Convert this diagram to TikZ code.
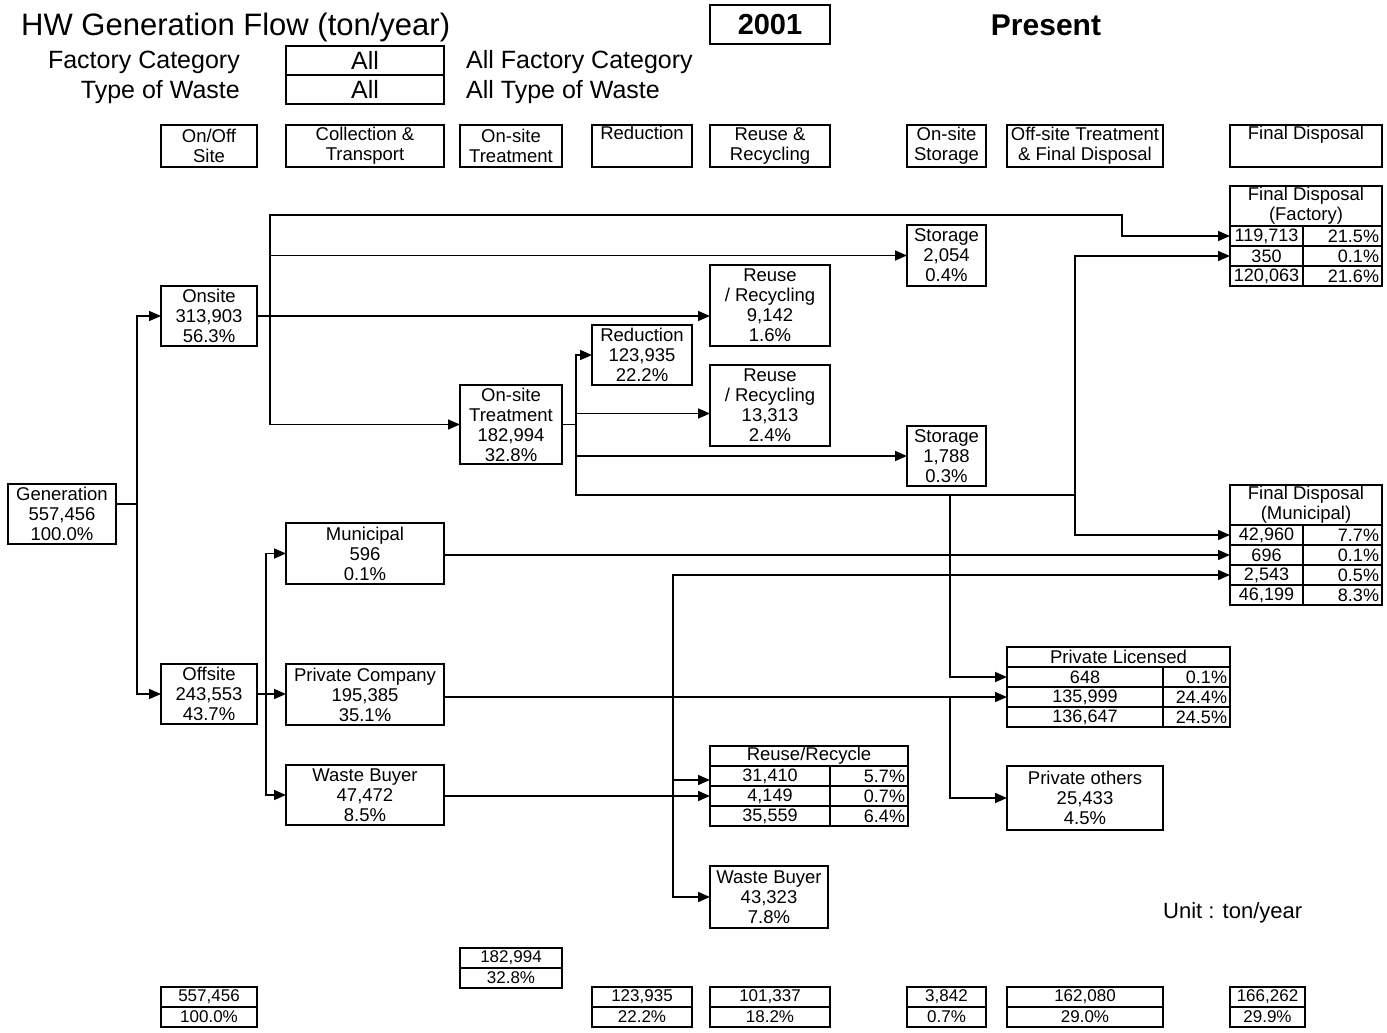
\documentclass[tikz,border=0pt]{standalone}
\usepackage{fontspec}
\setmainfont{Liberation Sans}
\usetikzlibrary{positioning,arrows.meta}
\newcommand\boxfont{\fontsize{18.5}{20}\selectfont}
\newcommand\cellfont{\fontsize{18}{20}\selectfont}
\newcommand\botfont{\fontsize{17}{20}\selectfont}
\newcommand\lblfont{\fontsize{25}{28}\selectfont}

\begin{document}
\begin{tikzpicture}[x=1pt,y=-1pt,>={Triangle[length=12pt,width=10pt]},every node/.style={font=\boxfont}]
\tikzstyle{bx}=[draw,line width=1.3pt,inner sep=0pt,outer sep=0pt,align=center]
\tikzstyle{cell}=[bx,font=\cellfont,minimum height=20pt]
\tikzstyle{bot}=[bx,font=\botfont,minimum height=20pt]
\tikzstyle{link}=[->,line width=1.6pt]
\tikzstyle{line}=[line width=1.6pt]
\tikzstyle{lbl}=[inner sep=0pt,font=\lblfont]
\tikzset{sz/.style 2 args={minimum width=#1pt,minimum height=#2pt},
  rcell/.style={cell,align=right,text width=#1pt,inner xsep=3pt}}
\fill[white] (0,0) rectangle (1387,1033);
\useasboundingbox (0,0) rectangle (1387,1033);

\node[anchor=base west,inner sep=0pt,font=\fontsize{31}{34}\selectfont] (title) at (21,36) {HW Generation Flow (ton/year)};
\node[bx,font=\bfseries\fontsize{29}{30}\selectfont,sz={120}{39}] (year) at (770,24.5) {2001};
\node[anchor=base,inner sep=0pt,font=\bfseries\fontsize{30}{32}\selectfont] (present) at (1046,36) {Present};
\node[lbl,anchor=base east] (fclab) at (240,69) {Factory Category};
\node[bx,font=\lblfont,sz={158}{29}] (fcall) at (365,60.5) {All};
\node[lbl,anchor=base west] (fcdesc) at (466,69) {All Factory Category};
\node[lbl,anchor=base east] (twlab) at (240,99) {Type of Waste};
\node[bx,font=\lblfont,sz={158}{29}] (twall) at (365,89.5) {All};
\node[lbl,anchor=base west] (twdesc) at (466,99) {All Type of Waste};
\node[anchor=base west,inner sep=0pt,font=\fontsize{22}{24}\selectfont] (unit) at (1163,918) {Unit : ton/year};

\node[bx,sz={96}{42}] (hsite) at (209,146) {On/Off\\Site};
\node[bx,sz={158}{42}] (hcoll) at (365,146) {Collection \&\\Transport};
\node[bx,sz={102}{42}] (htreat) at (511,146) {On-site\\Treatment};
\node[bx,sz={100}{42}] (hred) at (642,146) {Reduction\\\strut};
\node[bx,sz={120}{42}] (hreuse) at (770,146) {Reuse \&\\Recycling};
\node[bx,sz={79}{42}] (hstor) at (946.5,146) {On-site\\Storage};
\node[bx,sz={156}{42}] (hoff) at (1085,146) {Off-site Treatment\\\& Final Disposal};
\node[bx,sz={152}{42}] (hfin) at (1306,146) {Final Disposal\\\strut};

\node[bx,sz={108}{60}] (gen) at (62,514) {Generation\\557,456\\100.0\%};
\node[bx,sz={96}{60}] (onsite) at (209,316) {Onsite\\313,903\\56.3\%};
\node[bx,sz={96}{60}] (offsite) at (209,694) {Offsite\\243,553\\43.7\%};
\node[bx,sz={158}{61}] (mun) at (365,553.5) {Municipal\\596\\0.1\%};
\node[bx,sz={158}{61}] (pc) at (365,694.5) {Private Company\\195,385\\35.1\%};
\node[bx,sz={158}{60}] (wb) at (365,795) {Waste Buyer\\47,472\\8.5\%};
\node[bx,sz={102}{79}] (ostr) at (511,424.5) {On-site\\Treatment\\182,994\\32.8\%};
\node[bx,sz={100}{60}] (red) at (642,355) {Reduction\\123,935\\22.2\%};
\node[bx,sz={120}{81}] (reuA) at (770,305.5) {Reuse\\/ Recycling\\9,142\\1.6\%};
\node[bx,sz={120}{81}] (reuB) at (770,405.5) {Reuse\\/ Recycling\\13,313\\2.4\%};
\node[bx,sz={79}{61}] (storA) at (946.5,255.5) {Storage\\2,054\\0.4\%};
\node[bx,sz={79}{60}] (storB) at (946.5,456) {Storage\\1,788\\0.3\%};
\node[bx,sz={156}{64}] (po) at (1085,798) {Private others\\25,433\\4.5\%};
\node[bx,sz={118}{62}] (wb2) at (769,897) {Waste Buyer\\43,323\\7.8\%};

\node[bx,sz={152}{40}] (fdf) at (1306,206) {Final Disposal\\(Factory)};
\node[cell,sz={73}{20},anchor=north west] (fdf1) at (fdf.south west) {119,713};
\node[rcell=73,right=0pt of fdf1] (fdf1p) {21.5\%};
\node[cell,sz={73}{20},below=0pt of fdf1] (fdf2) {350};
\node[rcell=73,right=0pt of fdf2] (fdf2p) {0.1\%};
\node[cell,sz={73}{20},below=0pt of fdf2] (fdf3) {120,063};
\node[rcell=73,right=0pt of fdf3] (fdf3p) {21.6\%};

\node[bx,sz={152}{40}] (fdm) at (1306,505) {Final Disposal\\(Municipal)};
\node[cell,sz={73}{20},anchor=north west] (fdm1) at (fdm.south west) {42,960};
\node[rcell=73,right=0pt of fdm1] (fdm1p) {7.7\%};
\node[cell,sz={73}{20},below=0pt of fdm1] (fdm2) {696};
\node[rcell=73,right=0pt of fdm2] (fdm2p) {0.1\%};
\node[cell,sz={73}{20},below=0pt of fdm2] (fdm3) {2,543};
\node[rcell=73,right=0pt of fdm3] (fdm3p) {0.5\%};
\node[cell,sz={73}{20},below=0pt of fdm3] (fdm4) {46,199};
\node[rcell=73,right=0pt of fdm4] (fdm4p) {8.3\%};

\node[bx,sz={223}{20}] (pl) at (1118.5,657) {Private Licensed};
\node[cell,sz={156}{20},anchor=north west] (pl1) at (pl.south west) {648};
\node[rcell=61,right=0pt of pl1] (pl1p) {0.1\%};
\node[cell,sz={156}{20},below=0pt of pl1] (pl2) {135,999};
\node[rcell=61,right=0pt of pl2] (pl2p) {24.4\%};
\node[cell,sz={156}{20},below=0pt of pl2] (pl3) {136,647};
\node[rcell=61,right=0pt of pl3] (pl3p) {24.5\%};

\node[bx,sz={198}{20}] (rr) at (809,756) {Reuse/Recycle};
\node[cell,sz={120}{20},anchor=north west] (rr1) at (rr.south west) {31,410};
\node[rcell=72,right=0pt of rr1] (rr1p) {5.7\%};
\node[cell,sz={120}{20},below=0pt of rr1] (rr2) {4,149};
\node[rcell=72,right=0pt of rr2] (rr2p) {0.7\%};
\node[cell,sz={120}{20},below=0pt of rr2] (rr3) {35,559};
\node[rcell=72,right=0pt of rr3] (rr3p) {6.4\%};

\node[bot,sz={96}{20}] (tgen) at (209,997) {557,456};
\node[bot,sz={96}{20},below=0pt of tgen] (tgenp) {100.0\%};
\node[bot,sz={102}{20}] (ttreat) at (511,958) {182,994};
\node[bot,sz={102}{20},below=0pt of ttreat] (ttreatp) {32.8\%};
\node[bot,sz={100}{20}] (tred) at (642,997) {123,935};
\node[bot,sz={100}{20},below=0pt of tred] (tredp) {22.2\%};
\node[bot,sz={120}{20}] (treuse) at (770,997) {101,337};
\node[bot,sz={120}{20},below=0pt of treuse] (treusep) {18.2\%};
\node[bot,sz={79}{20}] (tstor) at (946.5,997) {3,842};
\node[bot,sz={79}{20},below=0pt of tstor] (tstorp) {0.7\%};
\node[bot,sz={156}{20}] (toff) at (1085,997) {162,080};
\node[bot,sz={156}{20},below=0pt of toff] (toffp) {29.0\%};
\node[bot,sz={75}{20}] (tfin) at (1267.5,997) {166,262};
\node[bot,sz={75}{20},below=0pt of tfin] (tfinp) {29.9\%};

\coordinate (jg) at (137,504);
\coordinate (jon) at (270,316);
\coordinate (kf) at (1122,215);
\coordinate (jot) at (576,424.5);
\coordinate (kv) at (1075,495);
\coordinate (jpl) at (950,495);
\coordinate (joff) at (266,694);
\coordinate (jpa) at (673,697);
\coordinate (jpb) at (950,697);
\coordinate (jwb) at (673,796);

\draw[line] (gen.east |- jg) -- (jg);
\draw[link] (jg) |- (onsite.west);
\draw[link] (jg) |- (offsite.west);
\draw[link] (onsite.east) -- (onsite.east -| reuA.west);
\draw[link] (jon) |- (kf) |- (fdf1.west);
\draw[link] (jon) |- (storA.west);
\draw[link] (jon) |- (ostr.west);
\draw[line] (ostr.east) -- (jot);
\draw[link] (jot) |- (red.west);
\draw[link] (jot) |- ([yshift=-8pt]reuB.west);
\draw[link] (jot) |- (storB.west);
\draw[line] (jot) |- (kv);
\draw[link] (kv) |- (fdf2.west);
\draw[link] (kv) |- (fdm1.west);
\draw[link] (jpl) |- (pl1.west);
\draw[link] (mun.east |- fdm2.west) -- (fdm2.west);
\draw[link] (offsite.east) -- (offsite.east -| pc.west);
\draw[link] (joff) |- (mun.west);
\draw[link] (joff) |- (wb.west);
\draw[link] (pc.east |- pl2.west) -- (pl2.west);
\draw[link] (jpa) |- (fdm3.west);
\draw[link] (jpa) |- ([yshift=-4pt]rr1.west);
\draw[line] (jpa) -- (jwb);
\draw[link] (jpb) |- (po.west);
\draw[link] (wb.east |- rr2.west) -- (rr2.west);
\draw[link] (jwb) |- (wb2.west);
\end{tikzpicture}
\end{document}
